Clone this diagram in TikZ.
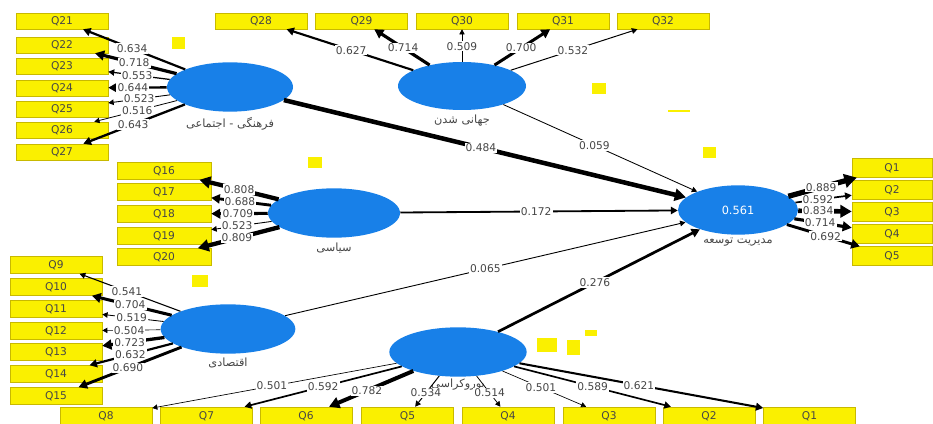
\documentclass[tikz,border=0pt]{standalone}
\usepackage{fontspec}
\setmainfont{DejaVu Sans}
\newfontfamily\fa[Script=Arabic]{DejaVu Sans}
\TeXXeTstate=1
\usetikzlibrary{shapes.geometric,arrows.meta,positioning}

\definecolor{latblue}{RGB}{24,128,232}
\definecolor{indfill}{RGB}{250,240,0}
\definecolor{indline}{RGB}{200,185,0}
\definecolor{valgray}{RGB}{70,70,70}

% loading: latent, indicator, value, label position
\newcommand{\loading}[4]{\draw[ldg=#3] (#1) -- node[val, pos=#4] {#3} (#2);}
% structural path: latent, latent, coefficient, label position
\newcommand{\pathcoef}[4]{\draw[pth=#3] (#1) -- node[val, pos=#4] {#3} (#2);}

\begin{document}
\begin{tikzpicture}[x=0.75pt, y=-0.75pt,
    lat/.style={ellipse, fill=latblue, minimum width=97pt, minimum height=37pt, inner sep=0pt},
    ind/.style={draw=indline, fill=indfill, minimum width=69pt, minimum height=12pt,
        inner sep=0pt, font=\fontsize{8}{9}\selectfont, text=valgray},
    latname/.style={font=\fontsize{8.5}{10}\selectfont, text=valgray, inner sep=1pt},
    val/.style={fill=white, inner sep=0.8pt, font=\fontsize{8}{9}\selectfont, text=valgray},
    ldg/.style={line width={max(0.5,(#1-0.45)*9)*1pt}, -{Triangle[length=3pt 1.6, width=3pt 1.8]}},
    pth/.style={line width={(0.25+6.5*#1)*1pt}, -{Triangle[length=3pt 1.6, width=3pt 1.8]}}]
  \useasboundingbox (0,0) rectangle (933,424);

  % latent variables
  \node[lat, minimum width=94.5pt] (cul) at (230,87) {};
  \node[lat, minimum width=96pt, minimum height=36pt] (glo) at (462,86) {};
  \node[lat, minimum width=99pt] (pol) at (334,213) {};
  \node[lat, minimum width=101pt] (eco) at (228,329) {};
  \node[lat, minimum width=103pt] (bur) at (458,352) {};
  \node[lat, minimum width=90pt, text=white, font=\fontsize{8.5}{10}\selectfont] (dev) at (738,210) {0.561};

  \node[latname, below=2.5pt of cul] (culname) {\fa\beginR فرهنگی - اجتماعی\endR};
  \node[latname, below=2.5pt of glo] (gloname) {\fa\beginR جهانی شدن\endR};
  \node[latname, below=2.5pt of pol] (polname) {\fa\beginR سیاسی\endR};
  \node[latname, below=2pt of eco] (econame) {\fa\beginR اقتصادی\endR};
  \node[latname, below=0.5pt of bur] (burname) {\fa\beginR بوروکراسی\endR};
  \node[latname, below=1pt of dev] (devname) {\fa\beginR مدیریت توسعه\endR};

  % indicators
  \foreach \q/\y in {21/21,22/45,23/66,24/88,25/109,26/130,27/152}
    \node[ind] (cul\q) at (62,\y) {Q\q};
  \foreach \q/\x in {28/261,29/361.5,30/462,31/563,32/663}
    \node[ind] (glo\q) at (\x,21) {Q\q};
  \foreach \q/\y in {16/171,17/192,18/214,19/236,20/257}
    \node[ind, minimum width=70.5pt, minimum height=12.75pt] (pol\q) at (164,\y) {Q\q};
  \foreach \q/\y in {9/265,10/287,11/309,12/331,13/352,14/374,15/396}
    \node[ind, minimum height=12.75pt] (eco\q) at (56,\y) {Q\q};
  \foreach \q/\x in {8/106,7/206.5,6/306,5/407.5,4/508,3/609,2/709,1/809.5}
    \node[ind, minimum height=14.25pt] (bur\q) at (\x,416.5) {Q\q};
  \foreach \q/\y in {1/168,2/190,3/212,4/234,5/256}
    \node[ind, minimum width=60pt, minimum height=14pt] (dev\q) at (892,\y) {Q\q};

  % outer loadings
  \foreach \q/\v/\p in {21/0.634/0.52,22/0.718/0.52,23/0.553/0.53,24/0.644/0.58,
      25/0.523/0.5,26/0.516/0.48,27/0.643/0.51}
    {\loading{cul}{cul\q}{\v}{\p}}
  \foreach \q/\v/\p in {28/0.627/0.49,29/0.714/0.48,30/0.509/0.48,31/0.700/0.48,32/0.532/0.49}
    {\loading{glo}{glo\q}{\v}{\p}}
  \foreach \q/\v/\p in {16/0.808/0.5,17/0.688/0.52,18/0.709/0.53,19/0.523/0.57,20/0.809/0.52}
    {\loading{pol}{pol\q}{\v}{\p}}
  \foreach \q/\v/\p in {9/0.541/0.53,10/0.704/0.52,11/0.519/0.52,12/0.504/0.54,
      13/0.723/0.56,14/0.632/0.51,15/0.690/0.52}
    {\loading{eco}{eco\q}{\v}{\p}}
  \foreach \q/\v/\p in {8/0.501/0.51,7/0.592/0.5,6/0.782/0.55,5/0.534/0.55,
      4/0.514/0.55,3/0.501/0.46,2/0.589/0.5,1/0.621/0.49}
    {\loading{bur}{bur\q}{\v}{\p}}
  \foreach \q/\v/\p in {1/0.889/0.48,2/0.592/0.4,3/0.834/0.37,4/0.714/0.45,5/0.692/0.53}
    {\loading{dev}{dev\q}{\v}{\p}}

  % path coefficients
  \pathcoef{cul}{dev}{0.484}{0.49}
  \pathcoef{glo}{dev}{0.059}{0.47}
  \pathcoef{pol}{dev}{0.172}{0.49}
  \pathcoef{eco}{dev}{0.065}{0.5}
  \pathcoef{bur}{dev}{0.276}{0.48}

  % stray yellow marks
  \fill[indfill] (172,37) rectangle (185,49);
  \fill[indfill] (592,83) rectangle (606,94);
  \fill[indfill] (703,147) rectangle (716,158);
  \fill[indfill] (668,110) rectangle (690,112);
  \fill[indfill] (308,157) rectangle (322,168);
  \fill[indfill] (192,275) rectangle (208,287);
  \fill[indfill] (537,338) rectangle (557,352);
  \fill[indfill] (567,340) rectangle (580,355);
  \fill[indfill] (585,330) rectangle (597,336);
\end{tikzpicture}
\end{document}
